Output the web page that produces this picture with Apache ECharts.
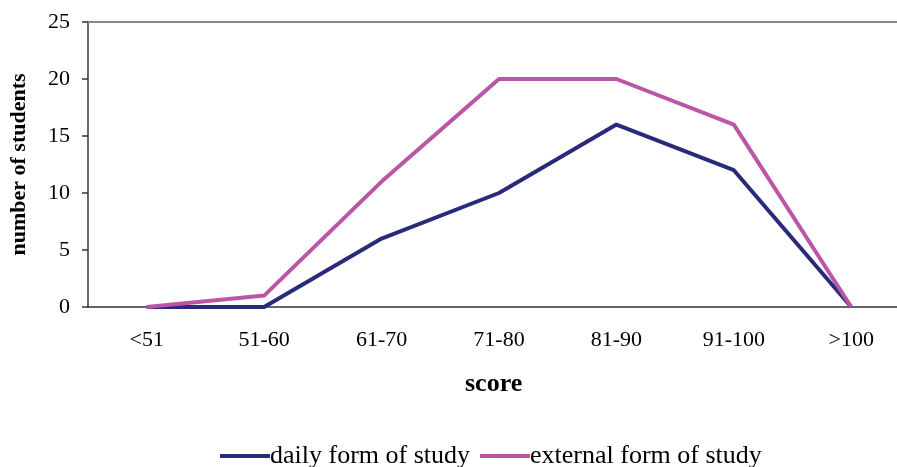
<!DOCTYPE html>
<html><head><meta charset="utf-8">
<script src="https://cdn.jsdelivr.net/npm/echarts@6/dist/echarts.min.js"></script>
<style>html,body{margin:0;padding:0;background:#fff}#c{width:897px;height:467px}</style>
</head><body><div id="c"></div>
<script>
const categories = ['<51','51-60','61-70','71-80','81-90','91-100','>100'];
const dailyForm = [0,0,6,10,16,12,0];
const externalForm = [0,1,11,20,20,16,0];
const yTicks = [0,5,10,15,20,25];

const font = '"Liberation Serif", "Times New Roman", serif';
const chart = echarts.init(document.getElementById('c'), null, {renderer:'canvas'});
chart.setOption({
  animation:false,
  backgroundColor:'#fff',
  grid:{left:88, top:22, width:822, height:285, containLabel:false, outerBoundsMode:'none'},
  legend:{
    top:438, left:215, itemWidth:50, itemHeight:4, itemGap:10, icon:'rect',
    textStyle:{fontFamily:font, fontSize:26, color:'#000', padding:[0,0,0,-5]},
    data:['daily form of study','external form of study']
  },
  xAxis:[{
    type:'category', data:categories, boundaryGap:true,
    axisLine:{lineStyle:{color:'#333', width:1.5}},
    axisTick:{length:6, lineStyle:{color:'#333', width:1.5}},
    axisLabel:{fontFamily:font, fontSize:22, color:'#000', margin:22}
  },{
    type:'category', data:categories, position:'top',
    axisLine:{show:true, lineStyle:{color:'#888', width:2}},
    axisTick:{show:false}, axisLabel:{show:false}
  }],
  yAxis:{
    type:'value', min:0, max:25, interval:5,
    name:'number of students', nameLocation:'middle', nameGap:58,
    nameTextStyle:{fontFamily:font, fontSize:22, fontWeight:'bold', color:'#000'},
    axisLine:{show:true, lineStyle:{color:'#333', width:1.5}},
    axisTick:{show:true, length:6, lineStyle:{color:'#333', width:1.5}},
    axisLabel:{fontFamily:font, fontSize:22, color:'#000', margin:18,
      formatter:(v)=>yTicks.includes(v)?String(v):''},
    splitLine:{show:false}
  },
  graphic:[{
    type:'text', left:465, top:371,
    style:{text:'score', fontFamily:font, fontSize:26, fontWeight:'bold', fill:'#000'}
  }],
  series:[
    {name:'daily form of study', type:'line', data:dailyForm, symbol:'none',
     lineStyle:{color:'#2a2a7a', width:4}, itemStyle:{color:'#2a2a7a'}, z:2},
    {name:'external form of study', type:'line', data:externalForm, symbol:'none',
     lineStyle:{color:'#bb55a5', width:4}, itemStyle:{color:'#bb55a5'}, z:3}
  ]
});
</script></body></html>
